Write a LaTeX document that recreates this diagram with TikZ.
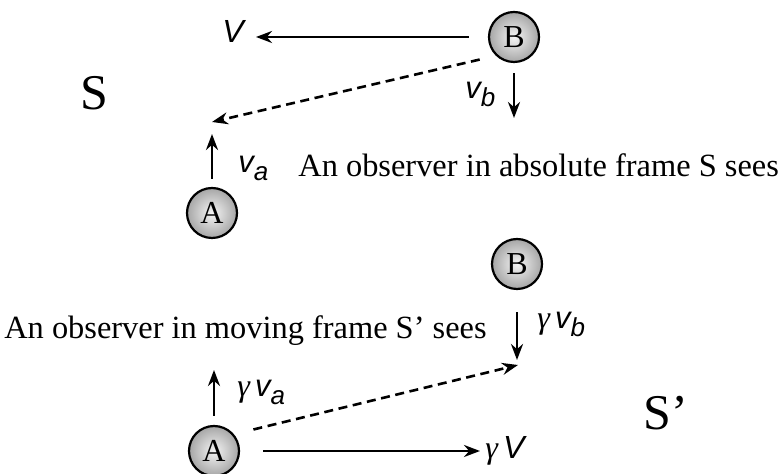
\documentclass[tikz,border=0pt]{standalone}
\usepackage{fontspec}
\setmainfont{Liberation Serif}
\setsansfont{Liberation Sans}
\usetikzlibrary{arrows.meta,positioning}

\newcommand{\vel}[1]{{\sffamily\itshape\fontsize{15.5}{18}\selectfont v\raisebox{-4pt}{\fontsize{13}{15}\selectfont #1}}}
\newcommand{\bigV}{{\sffamily\itshape\fontsize{16}{19}\selectfont V}}
\newcommand{\gam}{{\itshape\fontsize{16}{19}\selectfont γ}}

\begin{document}
\begin{tikzpicture}[x=0.5pt, y=-0.5pt,
    ball/.style={circle, draw, line width=1.1pt, minimum size=25pt, inner sep=0pt,
        inner color=gray!8, outer color=gray!70, font=\fontsize{16}{19}\selectfont},
    vec/.style={-{Stealth[length=8pt, width=6pt]}, line width=1.3pt},
    rel/.style={vec, dash pattern=on 4.5pt off 2.8pt},
    lbl/.style={anchor=base west, inner sep=0pt},
    txt/.style={inner sep=0pt, font=\fontsize{16.2}{19}\selectfont},
    frame/.style={anchor=base west, inner sep=0pt, font=\fontsize{25}{30}\selectfont}
]
\useasboundingbox (0,0) rectangle (781,474);
% Frame S (absolute)
\node[ball] (B1) at (514,37) {B};
\node[ball] (A1) at (212,213) {A};
\node[frame] (S1) at (80,110) {S};
\node[lbl] (V1) at (222,43) {\bigV};
\node[lbl] (vb1) at (465,99) {\vel{b}};
\node[lbl] (va1) at (238,173) {\vel{a}};
\node[txt, anchor=base west] (obs1) at (298,177) {An observer in absolute frame S sees};
\coordinate (w1) at (256,37);
\coordinate (s1) at (514,118);
\coordinate (u1) at (212,134);
\coordinate (d1) at (212,122);
\draw[vec, shorten <=9.5pt] (B1) -- (w1);
\draw[vec, shorten <=5pt] (B1) -- (s1);
\draw[vec, shorten <=4pt] (A1) -- (u1);
\draw[rel, shorten <=8.3pt] (B1.226) -- (d1);
% Frame S' (moving)
\node[ball] (B2) at (517,264) {B};
\node[ball] (A2) at (214,451) {A};
\node[frame] (S2) at (643,430) {S’};
\node[txt, anchor=base east] (obs2) at (487,339) {An observer in moving frame S’ sees};
\node[lbl] (vb2) at (537,329) {\gam\ \vel{b}};
\node[lbl] (va2) at (237,397) {\gam\ \vel{a}};
\node[lbl] (V2) at (485,459) {\gam\ \bigV};
\coordinate (s2) at (517,360);
\coordinate (u2) at (214,370);
\coordinate (w2) at (480,451);
\coordinate (d2) at (518,365);
\draw[vec, shorten <=11pt] (B2) -- (s2);
\draw[vec, shorten <=4.5pt] (A2) -- (u2);
\draw[vec, shorten <=11.5pt] (A2) -- (w2);
\draw[rel, shorten <=10pt] (A2.40) -- (d2);
\end{tikzpicture}
\end{document}
